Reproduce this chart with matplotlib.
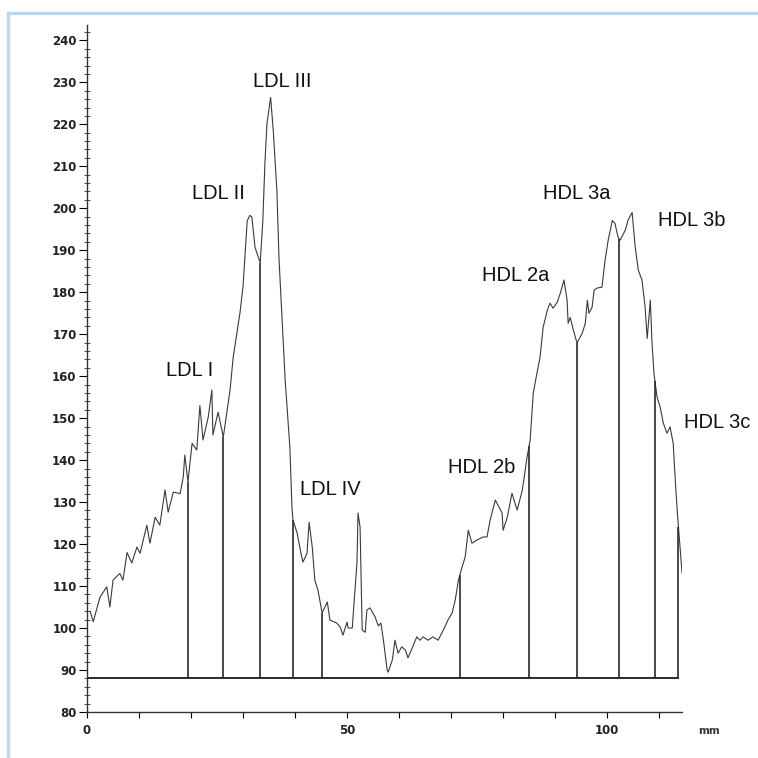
# -*- coding: utf-8 -*-
"""
Densitometric scan of a lipoprotein gel: LDL and HDL subfraction bands
along the migration distance (mm), with the band separators drawn down
to the baseline.
"""

import numpy as np
import matplotlib.pyplot as plt
from matplotlib.lines import Line2D


# Scan trace, migration distance in mm and optical density
scan_mm = [0.6, 1.2, 2.5, 3.8, 4.4, 5.0, 6.3, 6.9, 7.7, 8.6, 9.6, 10.2,
           11.5, 12.1, 13.1, 14.0, 15.0, 15.6, 16.6, 17.9, 18.5, 18.8,
           19.4, 20.2, 21.1, 21.7, 22.3, 23.3, 24.0, 24.2, 25.2, 26.2,
           27.5, 28.1, 29.4, 30.0, 30.8, 31.3, 31.7, 32.3, 33.3, 33.8,
           34.2, 34.6, 35.3, 35.8, 36.5, 36.9, 38.1, 39.0, 39.4, 39.6,
           40.4, 41.0, 41.5, 42.3, 42.7, 43.3, 43.8, 44.4, 45.2, 46.2,
           46.7, 48.0, 48.7, 49.2, 50.0, 50.2, 51.0, 51.2, 51.9, 52.1,
           52.5, 52.9, 53.5, 53.8, 54.4, 55.4, 56.0, 56.5, 57.0, 57.7,
           57.9, 58.7, 59.2, 59.8, 60.5, 61.2, 61.7, 62.5, 63.4, 64.0,
           64.6, 65.6, 66.5, 67.5, 68.5, 69.4, 70.2, 70.8, 71.4, 72.1,
           72.7, 73.3, 74.0, 75.0, 76.2, 76.9, 77.5, 78.5, 79.0, 79.8,
           80.0, 80.8, 81.7, 82.7, 83.7, 84.6, 85.2, 85.8, 86.5, 87.1,
           87.7, 88.5, 89.0, 89.6, 90.4, 91.0, 91.7, 92.3, 92.5, 92.9,
           93.5, 94.2, 95.2, 95.8, 96.2, 96.5, 97.1, 97.5, 98.1, 99.0,
           99.6, 100.2, 101.0, 101.5, 102.1, 102.5, 103.5, 104.0, 104.8,
           105.4, 106.0, 106.7, 107.3, 107.7, 108.3, 108.6, 109.0, 109.6,
           110.2, 110.8, 111.5, 112.1, 112.7, 113.1, 113.5, 114.0, 114.4]
scan_od = [104.0, 101.5, 107.4, 109.8, 105.0, 111.4, 113.0, 111.4, 118.0,
           115.5, 119.3, 117.8, 124.5, 120.2, 126.4, 124.5, 132.9, 127.6,
           132.4, 132.0, 136.0, 141.2, 134.8, 144.0, 142.4, 153.0, 144.8,
           150.2, 156.7, 146.0, 151.4, 145.5, 156.7, 164.5, 175.0, 181.5,
           197.0, 198.3, 197.9, 190.7, 187.0, 197.0, 210.7, 220.2, 226.4,
           218.6, 204.3, 188.3, 159.0, 143.0, 128.8, 125.7, 122.6, 118.6,
           115.7, 117.8, 125.2, 119.3, 111.4, 109.0, 103.6, 106.2, 101.9,
           101.2, 100.2, 98.3, 101.4, 100.0, 100.0, 103.6, 115.5, 127.4,
           124.0, 99.5, 99.0, 104.3, 104.8, 102.6, 100.5, 101.2, 97.0,
           90.0, 89.5, 92.4, 97.1, 94.0, 95.5, 94.8, 92.9, 95.2, 97.9,
           97.1, 97.9, 97.1, 97.9, 97.1, 99.5, 101.9, 103.6, 106.7, 111.4,
           114.5, 116.9, 123.3, 120.2, 121.0, 121.7, 121.7, 125.7, 130.5,
           129.3, 127.4, 123.3, 126.4, 132.1, 128.1, 132.9, 140.7, 144.8,
           156.0, 160.7, 164.5, 171.7, 175.7, 177.4, 176.2, 177.6, 179.8,
           182.9, 178.1, 172.6, 174.0, 171.0, 167.9, 170.2, 172.6, 178.1,
           175.0, 176.4, 180.5, 181.0, 181.2, 187.6, 192.4, 197.1, 196.4,
           193.1, 192.4, 194.8, 197.1, 199.0, 190.7, 185.2, 182.9, 176.4,
           169.0, 178.1, 168.6, 160.7, 155.0, 152.6, 148.8, 146.4, 147.9,
           144.0, 135.2, 127.4, 119.3, 113.1]

# Band separators (mm) and the integration baseline
cut_mm = [19.4, 26.2, 33.3, 39.6, 45.2, 71.7, 85.0, 94.2, 102.3, 109.2, 113.7]
baseline_od = 88

# Band names and where they are written
band_names = ['LDL I', 'LDL II', 'LDL III', 'LDL IV',
              'HDL 2b', 'HDL 2a', 'HDL 3a', 'HDL 3b', 'HDL 3c']
name_mm = [19.8, 25.2, 37.5, 46.7, 75.8, 82.5, 94.2, 116.2, 121.2]
name_od = [161.4, 203.6, 230.2, 132.9, 138.3, 184.0, 203.6, 197.1, 149.0]


fig = plt.figure(figsize=(7.58, 7.58), dpi=100)
ax = fig.add_axes([0.1148, 0.0607, 0.785, 0.906])

# The scan itself
ax.plot(scan_mm, scan_od, color='#3a3a3a', linewidth=0.8)

# Baseline and separators running up to the trace
ax.plot([0, cut_mm[-1]], [baseline_od, baseline_od], color='#2a2a2a',
        linewidth=1.4)
cut_top = np.interp(cut_mm, scan_mm, scan_od)
ax.vlines(cut_mm, baseline_od, cut_top, color='#2a2a2a', linewidth=1.2)

# Band labels
for name, x, y in zip(band_names, name_mm, name_od):
    ax.text(x, y, name, ha='center', va='center', fontsize=14.5,
            family='Liberation Sans', color='#111111', clip_on=False)

# Axis limits and ruler-like ticks
ax.set_xlim(0, 114.4)
ax.set_ylim(80, 243.6)
ax.set_xticks([0, 50, 100])
ax.set_xticks(np.arange(10, 114, 10), minor=True)
ax.set_yticks(np.arange(80, 241, 10))
ax.set_yticks(np.arange(80, 243, 2), minor=True)

ax.tick_params(axis='y', which='major', length=6, width=0.8, pad=1.5,
               labelsize=8.5)
ax.tick_params(axis='y', which='minor', direction='inout', length=4,
               width=0.5)
ax.tick_params(axis='x', which='major', length=4, width=0.8, pad=5,
               labelsize=8.5)
ax.tick_params(axis='x', which='minor', length=4, width=0.8)
for lab in ax.get_xticklabels() + ax.get_yticklabels():
    lab.set_fontweight('bold')
    lab.set_color('#222222')

for side in ['top', 'right']:
    ax.spines[side].set_visible(False)
for side in ['left', 'bottom']:
    ax.spines[side].set_color('#333333')
    ax.spines[side].set_linewidth(1.0)

ax.text(1.045, -0.028, 'mm', transform=ax.transAxes, ha='center',
        va='center', fontsize=7.5, fontweight='bold', color='#333333')

# Light blue frame along the top and left edges
frame_col = '#bcd6ee'
fig.add_artist(Line2D([0.0112, 1.0], [0.9835, 0.9835], color=frame_col,
                      linewidth=2.4, transform=fig.transFigure))
fig.add_artist(Line2D([0.0112, 0.0112], [0.0, 0.9835], color=frame_col,
                      linewidth=2.4, transform=fig.transFigure))

plt.savefig('out.png', dpi=100)
